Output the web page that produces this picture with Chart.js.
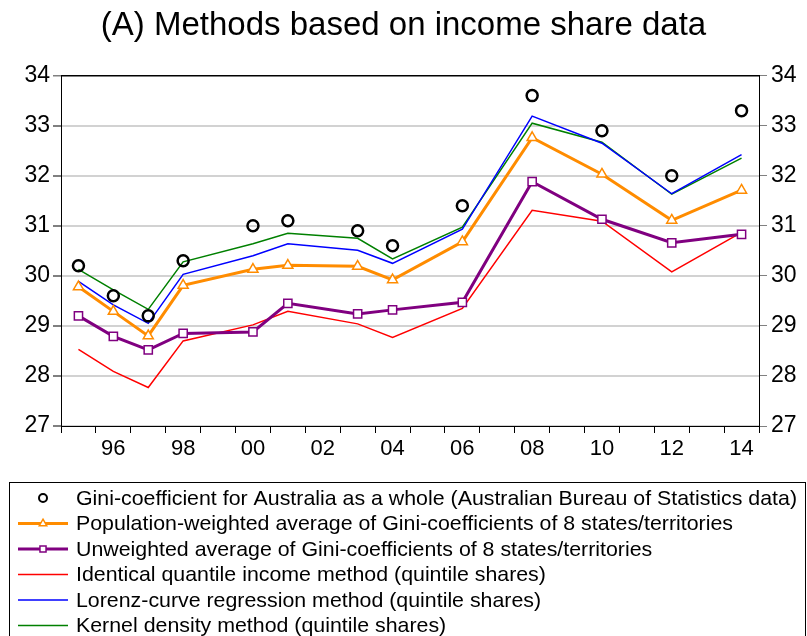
<!DOCTYPE html>
<html>
<head>
<meta charset="utf-8">
<script src="https://cdn.jsdelivr.net/npm/chart.js@4.4.1/dist/chart.umd.min.js"></script>
<style>
  html, body { margin: 0; padding: 0; background: #fff; }
  #wrap { width: 807px; height: 636px; }
</style>
</head>
<body>
<div id="wrap"><canvas id="lineChart"></canvas></div>
<script>
// survey years
var years = [1995, 1996, 1997, 1998, 2000, 2001, 2003, 2004, 2006, 2008, 2010, 2012, 2014];

var giniAbs   = [30.2, 29.6, 29.2, 30.3, 31.0, 31.1, 30.9, 30.6, 31.4, 33.6, 32.9, 32.0, 33.3];
var popWeight = [29.78, 29.29, 28.80, 29.81, 30.13, 30.21, 30.19, 29.92, 30.68, 32.76, 32.03, 31.11, 31.71];
var unweight  = [29.20, 28.79, 28.52, 28.85, 28.88, 29.45, 29.24, 29.32, 29.47, 31.88, 31.13, 30.66, 30.83];
var identQ    = [28.53, 28.09, 27.77, 28.70, 29.02, 29.29, 29.04, 28.77, 29.35, 31.31, 31.09, 30.08, 30.87];
var lorenz    = [29.89, 29.42, 29.05, 30.03, 30.40, 30.64, 30.51, 30.25, 30.93, 33.19, 32.65, 31.64, 32.42];
var kernel    = [30.13, 29.72, 29.33, 30.28, 30.64, 30.85, 30.75, 30.34, 30.97, 33.05, 32.67, 31.63, 32.35];

var xLabelYears = [1996, 1998, 2000, 2002, 2004, 2006, 2008, 2010, 2012, 2014];
var yTicks = [27, 28, 29, 30, 31, 32, 33, 34];

var FONT = "'Liberation Sans', Arial, sans-serif";

function pts(arr) {
  return arr.map(function (v, i) { return { x: years[i], y: v }; });
}

// legend drawn by hand, boxed, one row per series
var legendBox = {
  id: 'legendBox',
  afterDraw: function (chart) {
    var c = chart.ctx;
    c.save();
    c.strokeStyle = '#000';
    c.lineWidth = 1;
    c.strokeRect(9.5, 482.5, 796, 170);
    c.font = '21px ' + FONT;
    c.textBaseline = 'middle';
    var sets = chart.data.datasets;
    var factor = 721 / c.measureText(sets[0].label).width;
    for (var i = 0; i < sets.length; i++) {
      var ds = sets[i];
      var y = 498 + i * 25.5;
      if (ds.showLine !== false) {
        c.strokeStyle = ds.borderColor;
        c.lineWidth = ds.borderWidth;
        c.beginPath();
        c.moveTo(18, y);
        c.lineTo(68, y);
        c.stroke();
      }
      if (ds.pointRadius > 0) {
        c.fillStyle = ds.pointBackgroundColor;
        c.strokeStyle = ds.borderColor;
        c.lineWidth = ds.showLine === false ? 2 : ds.pointBorderWidth;
        Chart.helpers.drawPoint(c, {
          pointStyle: ds.pointStyle,
          radius: ds.pointRadius - 1.5,
          borderWidth: c.lineWidth
        }, 43, y);
      }
      c.fillStyle = '#000';
      c.save();
      c.translate(76, y);
      c.scale(factor, 1);
      c.fillText(ds.label, 0, 1);
      c.restore();
    }
    c.restore();
  }
};

var ctx = document.getElementById('lineChart');

var chart = new Chart(ctx, {
  type: 'line',
  data: {
    datasets: [
      {
        label: 'Gini-coefficient for Australia as a whole (Australian Bureau of Statistics data)',
        data: pts(giniAbs),
        showLine: false,
        borderColor: '#000',
        backgroundColor: 'rgba(0,0,0,0)',
        pointBackgroundColor: 'rgba(0,0,0,0)',
        pointStyle: 'circle',
        pointRadius: 5.5,
        pointBorderWidth: 2.5
      },
      {
        label: 'Population-weighted average of Gini-coefficients of 8 states/territories',
        data: pts(popWeight),
        borderColor: '#ff8c00',
        borderWidth: 3,
        pointStyle: 'triangle',
        pointRadius: 5.8,
        pointBorderWidth: 1.5,
        pointBackgroundColor: '#fff'
      },
      {
        label: 'Unweighted average of Gini-coefficients of 8 states/territories',
        data: pts(unweight),
        borderColor: '#800080',
        borderWidth: 3,
        pointStyle: 'rect',
        pointRadius: 5.8,
        pointBorderWidth: 1.5,
        pointBackgroundColor: '#fff'
      },
      {
        label: 'Identical quantile income method (quintile shares)',
        data: pts(identQ),
        borderColor: '#ff0000',
        borderWidth: 1.5,
        pointRadius: 0
      },
      {
        label: 'Lorenz-curve regression method (quintile shares)',
        data: pts(lorenz),
        borderColor: '#0000ff',
        borderWidth: 1.5,
        pointRadius: 0
      },
      {
        label: 'Kernel density method (quintile shares)',
        data: pts(kernel),
        borderColor: '#008000',
        borderWidth: 1.5,
        pointRadius: 0
      }
    ]
  },
  options: {
    responsive: true,
    maintainAspectRatio: false,
    animation: false,
    layout: { padding: { top: 0, left: 0, right: 0, bottom: 170 } },
    plugins: {
      legend: { display: false },
      tooltip: { enabled: false },
      title: {
        display: true,
        text: '(A) Methods based on income share data',
        color: '#000',
        font: { family: FONT, size: 33, weight: 'normal' },
        padding: { top: 6, bottom: 30 }
      }
    },
    scales: {
      x: {
        type: 'linear',
        min: 1994.5,
        max: 2014.5,
        afterFit: function (s) { s.height = 40; },
        border: { color: '#000', width: 1 },
        grid: {
          drawOnChartArea: false,
          tickLength: 7,
          tickColor: function (c) {
            return (c.tick && c.tick.value % 1 !== 0) ? '#000' : 'rgba(0,0,0,0)';
          }
        },
        ticks: {
          stepSize: 0.5,
          autoSkip: false,
          maxRotation: 0,
          padding: 3,
          color: '#000',
          font: { family: FONT, size: 22 },
          callback: function (v) {
            if (xLabelYears.indexOf(v) < 0) return '';
            return String(v % 100).padStart(2, '0');
          }
        }
      },
      y: {
        position: 'left',
        min: 27,
        max: 34,
        afterFit: function (s) { s.width = 61; },
        afterBuildTicks: function (s) { s.ticks = yTicks.map(function (v) { return { value: v }; }); },
        border: { color: '#000', width: 1 },
        grid: {
          color: function (c) { return c.tick && c.tick.value === 34 ? '#000' : '#d2d2d2'; },
          lineWidth: function (c) { return c.tick && c.tick.value === 34 ? 1.5 : 2; },
          tickColor: '#808080',
          tickLength: 8
        },
        ticks: {
          padding: 3,
          color: '#000',
          font: { family: FONT, size: 23 }
        }
      },
      y2: {
        position: 'right',
        min: 27,
        max: 34,
        afterFit: function (s) { s.width = 48; },
        afterBuildTicks: function (s) { s.ticks = yTicks.map(function (v) { return { value: v }; }); },
        border: { color: '#000', width: 1 },
        grid: {
          drawOnChartArea: false,
          tickColor: '#808080',
          tickLength: 8
        },
        ticks: {
          padding: 4,
          color: '#000',
          font: { family: FONT, size: 23 }
        }
      }
    }
  },
  plugins: [legendBox]
});
</script>
</body>
</html>
